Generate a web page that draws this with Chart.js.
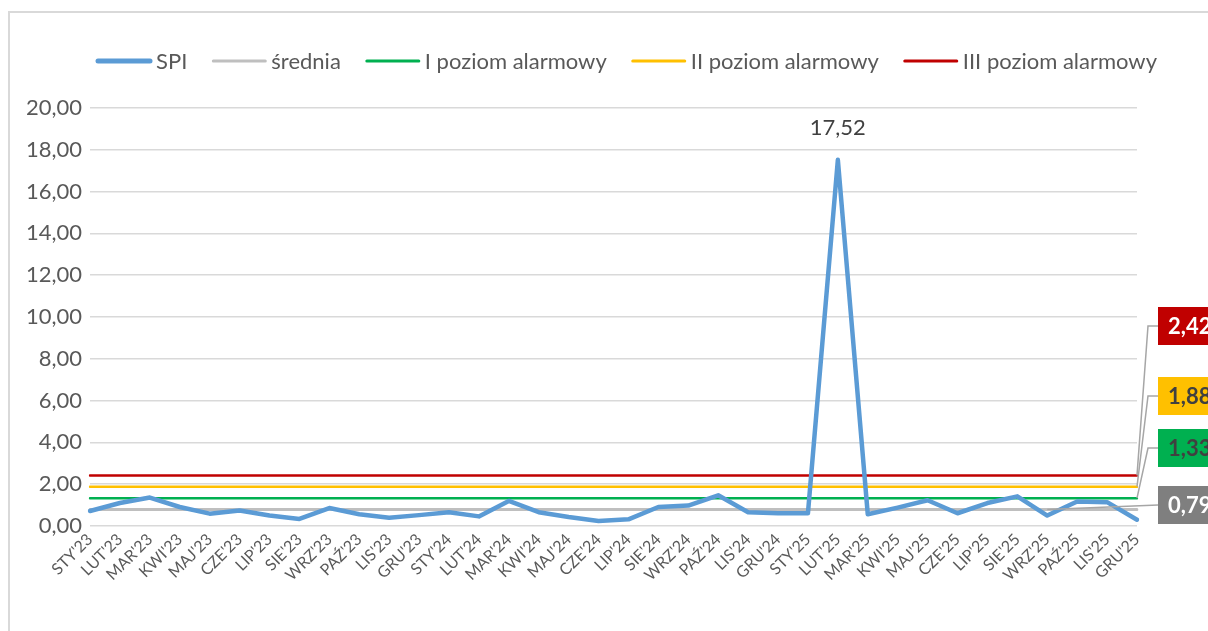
<!DOCTYPE html>
<html>
<head>
<meta charset="utf-8">
<script src="https://cdn.jsdelivr.net/npm/chart.js@4/dist/chart.umd.min.js"></script>
<style>
html, body { margin: 0; padding: 0; background: #fff; overflow: hidden; }
#ramka { position: absolute; left: 8px; top: 11px; width: 1400px; height: 800px; border: 2px solid #d9d9d9; }
#wrap { position: absolute; left: 0; top: 0; width: 1208px; height: 631px; }
</style>
</head>
<body>
<div id="ramka"></div>
<div id="wrap"><canvas id="chart-spi" width="1208" height="631"></canvas></div>
<script>
const miesiace = [
    "STY'23", "LUT'23", "MAR'23", "KWI'23", "MAJ'23", "CZE'23", "LIP'23", "SIE'23", "WRZ'23", "PAŹ'23", "LIS'23", "GRU'23",
    "STY'24", "LUT'24", "MAR'24", "KWI'24", "MAJ'24", "CZE'24", "LIP'24", "SIE'24", "WRZ'24", "PAŹ'24", "LIS'24", "GRU'24",
    "STY'25", "LUT'25", "MAR'25", "KWI'25", "MAJ'25", "CZE'25", "LIP'25", "SIE'25", "WRZ'25", "PAŹ'25", "LIS'25", "GRU'25"
];
const spi = [
    0.72, 1.10, 1.36, 0.91, 0.59, 0.74, 0.50, 0.34, 0.86, 0.56, 0.40, 0.52,
    0.66, 0.46, 1.20, 0.66, 0.43, 0.24, 0.32, 0.91, 0.98, 1.47, 0.66, 0.61,
    0.61, 17.52, 0.56, 0.88, 1.23, 0.61, 1.10, 1.42, 0.50, 1.17, 1.14, 0.30
];
const srednia = 0.79;
const poziom1 = 1.33;
const poziom2 = 1.88;
const poziom3 = 2.42;
const yTicks = [0, 2, 4, 6, 8, 10, 12, 14, 16, 18, 20];

const FONT = "Lato, 'Open Sans', sans-serif";
const szary = "#595959";

function poziomLinia(v) {
    return [{ x: miesiace[0], y: v }, { x: miesiace[miesiace.length - 1], y: v }];
}
function fmt(v) {
    return v.toFixed(2).replace(".", ",");
}

// legenda rysowana recznie
const legendaPlugin = {
    id: "legenda",
    afterDraw(chart) {
        const ctx = chart.ctx;
        const lineLen = 54, gap = 5, itemGap = 25, yc = 61, srodek = 627;
        ctx.save();
        ctx.font = "22px " + FONT;
        ctx.textBaseline = "middle";
        const items = chart.data.datasets.map(ds => ({
            label: ds.label, color: ds.borderColor, w: ds.legendWidth,
            tw: ctx.measureText(ds.label).width
        }));
        let total = 0;
        items.forEach((it, i) => { total += lineLen + gap + it.tw + (i ? itemGap : 0); });
        let x = srodek - total / 2;
        items.forEach(it => {
            ctx.strokeStyle = it.color;
            ctx.lineWidth = it.w;
            ctx.lineCap = "round";
            ctx.beginPath();
            ctx.moveTo(x + 1, yc);
            ctx.lineTo(x + lineLen - 1, yc);
            ctx.stroke();
            ctx.fillStyle = szary;
            ctx.fillText(it.label, x + lineLen + gap, yc + 1);
            x += lineLen + gap + it.tw + itemGap;
        });
        ctx.restore();
    }
};

// etykieta maksimum i etykiety poziomow po prawej
const etykietyPlugin = {
    id: "etykiety",
    afterDatasetsDraw(chart) {
        const ctx = chart.ctx;
        const xs = chart.scales.x, ys = chart.scales.y;
        ctx.save();

        const iMax = spi.indexOf(Math.max(...spi));
        const pt = chart.getDatasetMeta(0).data[iMax];
        ctx.font = "22px " + FONT;
        ctx.fillStyle = "#404040";
        ctx.textAlign = "center";
        ctx.textBaseline = "middle";
        ctx.fillText(fmt(spi[iMax]), pt.x, pt.y - 32);

        const xEnd = xs.getPixelForValue(miesiace.length - 1);
        const boxLeft = 1158, boxW = 70, boxH = 38;
        const etykiety = [
            { v: poziom3, bg: "#c00000", fg: "#ffffff", yc: 326, fromX: xEnd },
            { v: poziom2, bg: "#ffc000", fg: "#404040", yc: 396, fromX: xEnd },
            { v: poziom1, bg: "#00b050", fg: "#404040", yc: 448, fromX: xEnd },
            { v: srednia, bg: "#7f7f7f", fg: "#ffffff", yc: 505, fromX: xs.getPixelForValue(32) }
        ];
        etykiety.forEach((e, i) => {
            const yv = ys.getPixelForValue(e.v);
            ctx.strokeStyle = "#a6a6a6";
            ctx.lineWidth = 1.5;
            ctx.beginPath();
            ctx.moveTo(e.fromX, yv);
            if (i < 3) {
                ctx.lineTo(xEnd + 11, e.yc);
            }
            ctx.lineTo(boxLeft, e.yc);
            ctx.stroke();
            ctx.fillStyle = e.bg;
            ctx.fillRect(boxLeft, e.yc - boxH / 2, boxW, boxH);
            ctx.fillStyle = e.fg;
            ctx.font = "bold 22px " + FONT;
            ctx.textAlign = "left";
            ctx.fillText(fmt(e.v), boxLeft + 10, e.yc + 1);
        });
        ctx.restore();
    }
};

new Chart(document.getElementById("chart-spi"), {
    type: "line",
    data: {
        labels: miesiace,
        datasets: [
            { label: "SPI", data: spi, borderColor: "#5b9bd5", borderWidth: 4.5, legendWidth: 5 },
            { label: "średnia", data: poziomLinia(srednia), borderColor: "#bfbfbf", borderWidth: 3, legendWidth: 3 },
            { label: "I poziom alarmowy", data: poziomLinia(poziom1), borderColor: "#00b050", borderWidth: 2.5, legendWidth: 3 },
            { label: "II poziom alarmowy", data: poziomLinia(poziom2), borderColor: "#ffc000", borderWidth: 2.5, legendWidth: 3 },
            { label: "III poziom alarmowy", data: poziomLinia(poziom3), borderColor: "#c00000", borderWidth: 2.5, legendWidth: 3 }
        ]
    },
    options: {
        responsive: false,
        animation: false,
        elements: {
            point: { radius: 0 },
            line: { tension: 0, borderJoinStyle: "round", borderCapStyle: "round" }
        },
        layout: { padding: { top: 108, right: 71, left: 0, bottom: 0 } },
        plugins: {
            legend: { display: false },
            tooltip: { enabled: false }
        },
        scales: {
            x: {
                offset: false,
                grid: { display: false, drawTicks: false },
                border: { display: false },
                ticks: {
                    autoSkip: false,
                    maxRotation: 45,
                    minRotation: 45,
                    padding: 4,
                    color: szary,
                    font: { family: FONT, size: 16 }
                },
                afterFit(scale) { scale.height = 105; }
            },
            y: {
                min: 0,
                max: 20,
                afterBuildTicks(scale) { scale.ticks = yTicks.map(v => ({ value: v })); },
                grid: { color: "#d9d9d9", lineWidth: 1.5, drawTicks: false },
                border: { display: false },
                ticks: {
                    padding: 8,
                    color: szary,
                    font: { family: FONT, size: 22 },
                    callback: v => fmt(v)
                },
                afterFit(scale) { scale.width = 90; }
            }
        }
    },
    plugins: [legendaPlugin, etykietyPlugin]
});
</script>
</body>
</html>
